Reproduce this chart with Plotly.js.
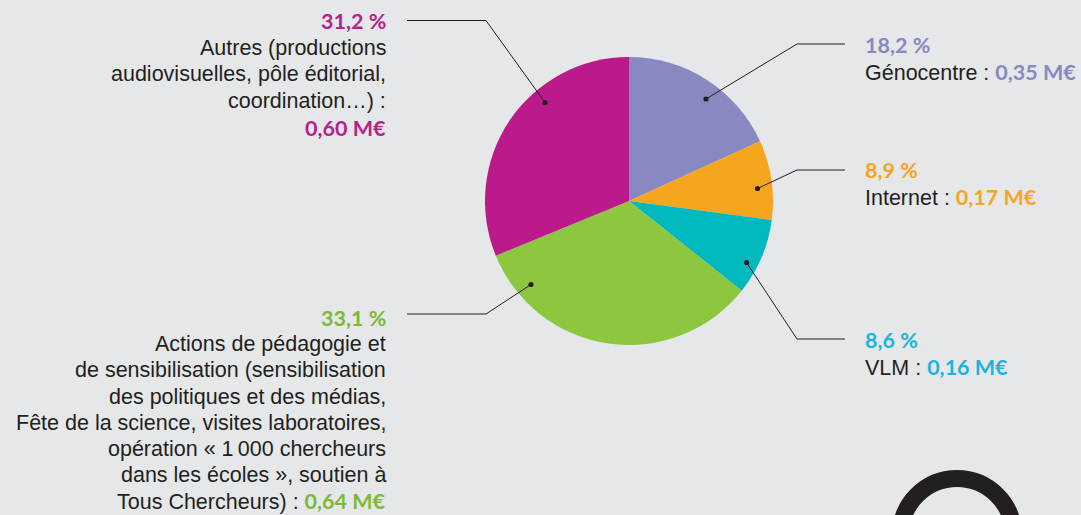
<!DOCTYPE html>
<html>
<head>
<meta charset="utf-8">
<script src="https://cdn.plot.ly/plotly-3.0.1.min.js"></script>
<style>
html,body{margin:0;padding:0;background:#e6e7e8;}
#chart{width:1081px;height:515px;}
</style>
</head>
<body>
<div id="chart"></div>
<script>
// ---- data ----
const categories = ["Génocentre", "Internet", "VLM", "Actions", "Autres"];
const shares = [18.2, 8.9, 8.6, 33.1, 31.2];
const shareLabels = ["18,2 %", "8,9 %", "8,6 %", "33,1 %", "31,2 %"];
const amountLabels = ["0,35 M€", "0,17 M€", "0,16 M€", "0,64 M€", "0,60 M€"];
const sliceColors = ["#8789c0", "#f6a51e", "#00b9be", "#8dc63f", "#bb1a8b"];
const textColors = ["#8789c0", "#f6a51e", "#1ab4dc", "#7db83a", "#b8208c"];
const descLines = [
  ["Génocentre :"],
  ["Internet :"],
  ["VLM :"],
  ["Actions de pédagogie et", "de sensibilisation (sensibilisation", "des politiques et des médias,",
   "Fête de la science, visites laboratoires,", "opération « 1\u202F000 chercheurs",
   "dans les écoles », soutien à", "Tous Chercheurs) :"],
  ["Autres (productions", "audiovisuelles, pôle éditorial,", "coordination…) :"]
];

// ---- layout helpers (pixel -> paper) ----
const W = 1081, H = 515;
const px = x => x / W;
const py = y => 1 - y / H;
const BODY = "'Liberation Sans', Arial, sans-serif";
const NUM = "Lato, 'Open Sans', sans-serif";
const DARK = "#231f20";

const cx = 629, cy = 201, R = 144;

// label block placement (pixel positions)
const blocks = [
  {side: "right", x: 864, y0: 45, lh: 26.7, dot: [706, 99], elbow: [797, 44], end: [845, 44]},
  {side: "right", x: 864, y0: 170, lh: 26.7, dot: [757.5, 188.5], elbow: [797, 170], end: [845, 170]},
  {side: "right", x: 864, y0: 340, lh: 26.7, dot: [746.5, 262.5], elbow: [797, 339], end: [845, 339]},
  {side: "left", x: 387, y0: 318, lh: 26.2, dot: [531, 284.5], elbow: [486, 314], end: [407, 314]},
  {side: "left", x: 387, y0: 21, lh: 26.7, dot: [545, 102.5], elbow: [486, 20.5], end: [407, 20.5]}
];

const annotations = [];
const shapes = [];
blocks.forEach((b, i) => {
  const xa = b.side === "right" ? "left" : "right";
  const numSpan = t => `<span style="color:${textColors[i]};font-family:${NUM};font-weight:bold">${t}</span>`;
  const lines = [numSpan(shareLabels[i])];
  const desc = descLines[i];
  if (b.side === "right") {
    lines.push(desc[0] + " " + numSpan(amountLabels[i]));
  } else if (i === 3) {
    desc.forEach((d, k) => lines.push(k === desc.length - 1 ? d + " " + numSpan(amountLabels[i]) : d));
  } else {
    desc.forEach(d => lines.push(d));
    lines.push(numSpan(amountLabels[i]));
  }
  lines.forEach((t, k) => {
    annotations.push({
      xref: "paper", yref: "paper", x: px(b.x), y: py(b.y0 + k * b.lh),
      xanchor: xa, yanchor: "middle", showarrow: false, text: t,
      font: {family: BODY, size: 21.5, color: DARK}, borderpad: 0
    });
  });
  shapes.push({
    type: "path", xref: "paper", yref: "paper",
    path: `M ${px(b.dot[0])} ${py(b.dot[1])} L ${px(b.elbow[0])} ${py(b.elbow[1])} L ${px(b.end[0])} ${py(b.end[1])}`,
    line: {color: DARK, width: 1}
  });
  const r = 2.6;
  shapes.push({
    type: "circle", xref: "paper", yref: "paper",
    x0: px(b.dot[0] - r), x1: px(b.dot[0] + r), y0: py(b.dot[1] + r), y1: py(b.dot[1] - r),
    fillcolor: DARK, line: {width: 0}
  });
});

// decorative ring (bottom right)
const rcx = 957, rcy = 535, rr = 56.5;
shapes.push({
  type: "circle", xref: "paper", yref: "paper",
  x0: px(rcx - rr), x1: px(rcx + rr), y0: py(rcy + rr), y1: py(rcy - rr),
  line: {color: DARK, width: 17}, fillcolor: "rgba(0,0,0,0)"
});

const trace = {
  type: "pie",
  labels: categories,
  values: shares,
  sort: false,
  direction: "clockwise",
  rotation: 0,
  marker: {colors: sliceColors, line: {width: 0}},
  textinfo: "none",
  hoverinfo: "skip",
  showlegend: false,
  domain: {x: [px(cx - R), px(cx + R)], y: [py(cy + R), py(cy - R)]}
};

Plotly.newPlot("chart", [trace], {
  width: W, height: H,
  margin: {l: 0, r: 0, t: 0, b: 0},
  paper_bgcolor: "#e6e7e8",
  plot_bgcolor: "#e6e7e8",
  showlegend: false,
  annotations: annotations,
  shapes: shapes
}, {displayModeBar: false, staticPlot: true});
</script>
</body>
</html>
